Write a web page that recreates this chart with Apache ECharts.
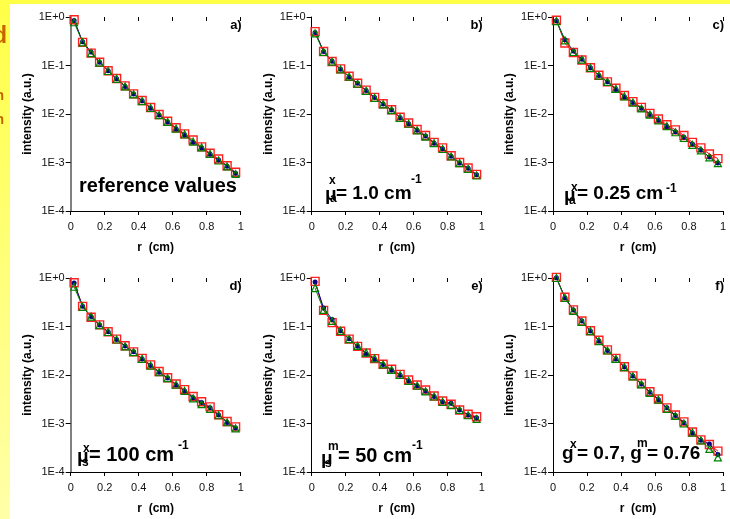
<!DOCTYPE html>
<html>
<head>
<meta charset="utf-8">
<script src="https://cdn.jsdelivr.net/npm/echarts@6/dist/echarts.min.js"></script>
<style>
html, body { margin: 0; padding: 0; }
#main { width: 730px; height: 519px; }
</style>
</head>
<body>
<div id="main"></div>
<script>
// radial positions (cm)
var r = [0.02, 0.07, 0.12, 0.17, 0.22, 0.27, 0.32, 0.37, 0.42, 0.47,
         0.52, 0.57, 0.62, 0.67, 0.72, 0.77, 0.82, 0.87, 0.92, 0.97];

var xTicks = ['0', '0.2', '0.4', '0.6', '0.8', '1'];
var yTicks = ['1E-4', '1E-3', '1E-2', '1E-1', '1E+0'];

// a) reference values
var refA = [0.88, 0.30, 0.18, 0.117, 0.078, 0.054, 0.038, 0.026, 0.019, 0.0136, 0.0098, 0.0071, 0.0052, 0.0039, 0.0029, 0.0021, 0.00155, 0.00118, 0.00086, 0.00063];
var blueA = [0.85, 0.31, 0.19, 0.116, 0.078, 0.053, 0.037, 0.0257, 0.0187, 0.0132, 0.0095, 0.0068, 0.0049, 0.0037, 0.0026, 0.0020, 0.00148, 0.00112, 0.00084, 0.00060];
var greenA = [0.78, 0.30, 0.18, 0.115, 0.077, 0.053, 0.037, 0.0255, 0.0185, 0.0133, 0.0095, 0.0069, 0.0050, 0.0038, 0.0027, 0.00205, 0.0015, 0.0011, 0.00083, 0.00058];
// b) mua^x = 1.0
var refB = [0.50, 0.195, 0.121, 0.085, 0.060, 0.043, 0.031, 0.022, 0.0163, 0.0122, 0.0086, 0.0065, 0.0048, 0.0036, 0.0026, 0.0020, 0.00138, 0.0010, 0.00077, 0.00057];
var blueB = [0.48, 0.195, 0.122, 0.084, 0.058, 0.043, 0.0305, 0.0218, 0.016, 0.0121, 0.0084, 0.0063, 0.0046, 0.0035, 0.0025, 0.00192, 0.00135, 0.00098, 0.00076, 0.00056];
var greenB = [0.46, 0.19, 0.12, 0.083, 0.059, 0.042, 0.030, 0.0215, 0.0158, 0.012, 0.0083, 0.0063, 0.0046, 0.0034, 0.0025, 0.0019, 0.00133, 0.00097, 0.00074, 0.00054];
// c) mua^x = 0.25
var refC = [0.86, 0.29, 0.185, 0.13, 0.090, 0.063, 0.046, 0.034, 0.024, 0.018, 0.0137, 0.0103, 0.0079, 0.0060, 0.0047, 0.0036, 0.0026, 0.0020, 0.0015, 0.0012];
var blueC = [0.84, 0.34, 0.20, 0.134, 0.090, 0.0625, 0.046, 0.032, 0.0225, 0.0172, 0.0131, 0.0098, 0.0074, 0.0055, 0.0043, 0.0033, 0.0024, 0.0018, 0.0013, 0.00098];
var greenC = [0.82, 0.33, 0.19, 0.132, 0.089, 0.062, 0.046, 0.033, 0.023, 0.0172, 0.013, 0.0097, 0.0074, 0.0056, 0.0042, 0.0032, 0.0023, 0.00178, 0.00128, 0.00097];
// d) mus^x = 100
var refD = [0.80, 0.26, 0.155, 0.108, 0.078, 0.055, 0.040, 0.030, 0.022, 0.0162, 0.0118, 0.0088, 0.0065, 0.0050, 0.0036, 0.0028, 0.0022, 0.00152, 0.0011, 0.00085];
var blueD = [0.79, 0.26, 0.16, 0.107, 0.078, 0.054, 0.0394, 0.030, 0.0215, 0.0157, 0.0114, 0.0087, 0.0062, 0.0047, 0.0034, 0.0027, 0.0021, 0.0015, 0.00105, 0.00081];
var greenD = [0.66, 0.255, 0.16, 0.106, 0.077, 0.054, 0.039, 0.0295, 0.0215, 0.0156, 0.0114, 0.0086, 0.0063, 0.0047, 0.0033, 0.0025, 0.0020, 0.00148, 0.00106, 0.00079];
// e) mus^m = 50
var refE = [0.85, 0.215, 0.12, 0.080, 0.055, 0.039, 0.0285, 0.0218, 0.0167, 0.0131, 0.0103, 0.0079, 0.0062, 0.0049, 0.0037, 0.0029, 0.0025, 0.0019, 0.00155, 0.00138];
var blueE = [0.83, 0.24, 0.14, 0.082, 0.056, 0.039, 0.027, 0.0208, 0.0164, 0.0126, 0.0099, 0.0075, 0.0060, 0.0047, 0.0036, 0.0028, 0.0026, 0.0019, 0.0015, 0.00132];
var greenE = [0.62, 0.22, 0.13, 0.081, 0.055, 0.040, 0.029, 0.022, 0.0165, 0.0128, 0.0100, 0.0076, 0.0060, 0.0046, 0.0036, 0.0028, 0.0024, 0.0019, 0.00148, 0.00124];
// f) g^x = 0.7, g^m = 0.76
var refF = [1.03, 0.40, 0.22, 0.13, 0.082, 0.052, 0.033, 0.022, 0.0148, 0.0096, 0.0067, 0.0045, 0.0032, 0.0021, 0.0015, 0.00108, 0.00067, 0.00046, 0.00037, 0.00027];
var blueF = [1.01, 0.39, 0.22, 0.13, 0.081, 0.050, 0.032, 0.0215, 0.0146, 0.0095, 0.0065, 0.0044, 0.0031, 0.0021, 0.00146, 0.00104, 0.00064, 0.00045, 0.00038, 0.00023];
var greenF = [1.0, 0.39, 0.21, 0.125, 0.080, 0.050, 0.032, 0.0215, 0.0145, 0.0094, 0.0064, 0.0043, 0.0031, 0.0020, 0.00143, 0.0010, 0.00065, 0.00045, 0.00030, 0.00020];

var panels = [
  { tag: 'a)', left: 70.7, top: 17, axisCol: '#808080', axisW: 2, red: refA, blue: blueA, green: greenA },
  { tag: 'b)', left: 311.7, top: 17, axisCol: '#000', axisW: 1, red: refB, blue: blueB, green: greenB },
  { tag: 'c)', left: 553, top: 17, axisCol: '#000', axisW: 1, red: refC, blue: blueC, green: greenC },
  { tag: 'd)', left: 70.7, top: 278, axisCol: '#808080', axisW: 2, red: refD, blue: blueD, green: greenD },
  { tag: 'e)', left: 311.7, top: 278, axisCol: '#000', axisW: 1, red: refE, blue: blueE, green: greenE },
  { tag: 'f)', left: 553, top: 278, axisCol: '#000', axisW: 1, red: refF, blue: blueF, green: greenF }
];
var W = 170, H = 194;
var FONT = '"Liberation Sans", Arial, sans-serif';

function pairs(vals) {
  return r.map(function (x, k) { return [x, vals[k]]; });
}

function txt(x, y, s, size, align) {
  return {
    type: 'text', x: x, y: y, z: 100,
    style: {
      text: s, fill: '#000', font: 'bold ' + size + 'px ' + FONT,
      textAlign: align || 'left', textVerticalAlign: 'middle'
    }
  };
}

var grid = [], xAxis = [], yAxis = [], series = [];
var graphic = [
  { type: 'rect', z: 0, shape: { x: 10, y: 4, width: 720, height: 515 }, style: { fill: '#fff' } },
  { type: 'text', z: 1, x: 7, y: 37, style: { text: 'd', fill: '#c86400', font: 'bold 23px ' + FONT, textAlign: 'right', textVerticalAlign: 'middle' } },
  { type: 'text', z: 1, x: 4, y: 96, style: { text: 'n', fill: '#c86400', font: 'bold 14px ' + FONT, textAlign: 'right', textVerticalAlign: 'middle' } },
  { type: 'text', z: 1, x: 4, y: 120, style: { text: 'n', fill: '#c86400', font: 'bold 14px ' + FONT, textAlign: 'right', textVerticalAlign: 'middle' } }
];

panels.forEach(function (p, i) {
  grid.push({ left: p.left, top: p.top, width: W, height: H });
  xAxis.push({
    type: 'value', gridIndex: i, min: 0, max: 1, interval: 0.2,
    name: 'r  (cm)', nameLocation: 'middle', nameGap: 31,
    nameTextStyle: { fontFamily: FONT, fontWeight: 'bold', fontSize: 12, color: '#000' },
    axisLine: { onZero: false, lineStyle: { color: '#000', width: 1 } },
    axisTick: { length: 4, lineStyle: { color: '#000' } },
    axisLabel: { fontFamily: FONT, fontSize: 11, color: '#111', margin: 10,
      formatter: function (v) { return xTicks[Math.round(v * 5)]; } },
    splitLine: { show: false }
  });
  xAxis.push({
    type: 'value', gridIndex: i, min: 0, max: 1, interval: 0.2,
    axisLine: { show: false },
    axisTick: { inside: true, length: 4, lineStyle: { color: '#000' } },
    axisLabel: { show: false },
    splitLine: { show: false }
  });
  yAxis.push({
    type: 'log', logBase: 10, gridIndex: i, min: 0.0001, max: 1,
    name: 'intensity (a.u.)', nameLocation: 'middle', nameGap: 37,
    nameTextStyle: { fontFamily: FONT, fontWeight: 'bold', fontSize: 12, color: '#000' },
    axisLine: { show: true, lineStyle: { color: p.axisCol, width: p.axisW } },
    axisTick: { show: true, length: 5, lineStyle: { color: '#000' } },
    axisLabel: { fontFamily: FONT, fontSize: 11, color: '#111', margin: 6,
      formatter: function (v) { return yTicks[Math.round(Math.log10(v)) + 4]; } },
    minorTick: { show: false },
    splitLine: { show: false }
  });
  var common = { type: 'line', xAxisIndex: 2 * i, yAxisIndex: i, clip: false, showAllSymbol: true, animation: false, silent: true };
  series.push(Object.assign({}, common, {
    data: pairs(p.red), symbol: 'rect', symbolSize: 8,
    lineStyle: { color: '#ff0000', width: 1 },
    itemStyle: { color: 'rgba(255,255,255,0)', borderColor: '#ff2020', borderWidth: 1.4 }
  }));
  series.push(Object.assign({}, common, {
    data: pairs(p.blue), symbol: 'circle', symbolSize: 5,
    lineStyle: { color: '#0000a0', width: 1 },
    itemStyle: { color: '#000080', borderColor: '#000080', borderWidth: 0 }
  }));
  series.push(Object.assign({}, common, {
    data: pairs(p.green), symbol: 'triangle', symbolSize: 7,
    lineStyle: { color: '#008000', width: 1 },
    itemStyle: { color: 'rgba(255,255,255,0)', borderColor: '#008000', borderWidth: 1.2 }
  }));
  graphic.push(txt(p.left + W + 1, p.top + 8.5, p.tag, 13, 'right'));
});

// annotations
graphic.push(txt(79, 186, 'reference values', 20));

graphic.push(txt(325, 195, 'μ', 19));
graphic.push(txt(329, 181, 'x', 12));
graphic.push(txt(330, 199, 'a', 12));
graphic.push(txt(336, 194, '= 1.0 cm', 19));
graphic.push(txt(411, 180, '-1', 12));

graphic.push(txt(564, 196, 'μ', 19));
graphic.push(txt(571, 188, 'x', 12));
graphic.push(txt(569, 201, 'a', 12));
graphic.push(txt(577, 194, '= 0.25 cm', 19));
graphic.push(txt(666, 189, '-1', 12));

graphic.push(txt(77, 457, 'μ', 19));
graphic.push(txt(83, 449, 'x', 12));
graphic.push(txt(82, 463, 's', 12));
graphic.push(txt(89, 455, '= 100 cm', 20));
graphic.push(txt(178, 446, '-1', 12));

graphic.push(txt(321, 459, 'μ', 19));
graphic.push(txt(328, 447, 'm', 12));
graphic.push(txt(325, 464, 's', 12));
graphic.push(txt(338, 456, '= 50 cm', 20));
graphic.push(txt(412, 446, '-1', 12));

graphic.push(txt(562, 454, 'g', 19));
graphic.push(txt(570, 445, 'x', 12));
graphic.push(txt(577, 454, '= 0.7, g', 19));
graphic.push(txt(637, 444, 'm', 12));
graphic.push(txt(647, 454, '= 0.76', 19));

var chart = echarts.init(document.getElementById('main'));
chart.setOption({
  backgroundColor: new echarts.graphic.LinearGradient(0, 0, 0, 1, [
    { offset: 0, color: '#ffff48' },
    { offset: 1, color: '#ffffa8' }
  ]),
  animation: false,
  graphic: graphic,
  grid: grid,
  xAxis: xAxis,
  yAxis: yAxis,
  series: series
});
</script>
</body>
</html>
